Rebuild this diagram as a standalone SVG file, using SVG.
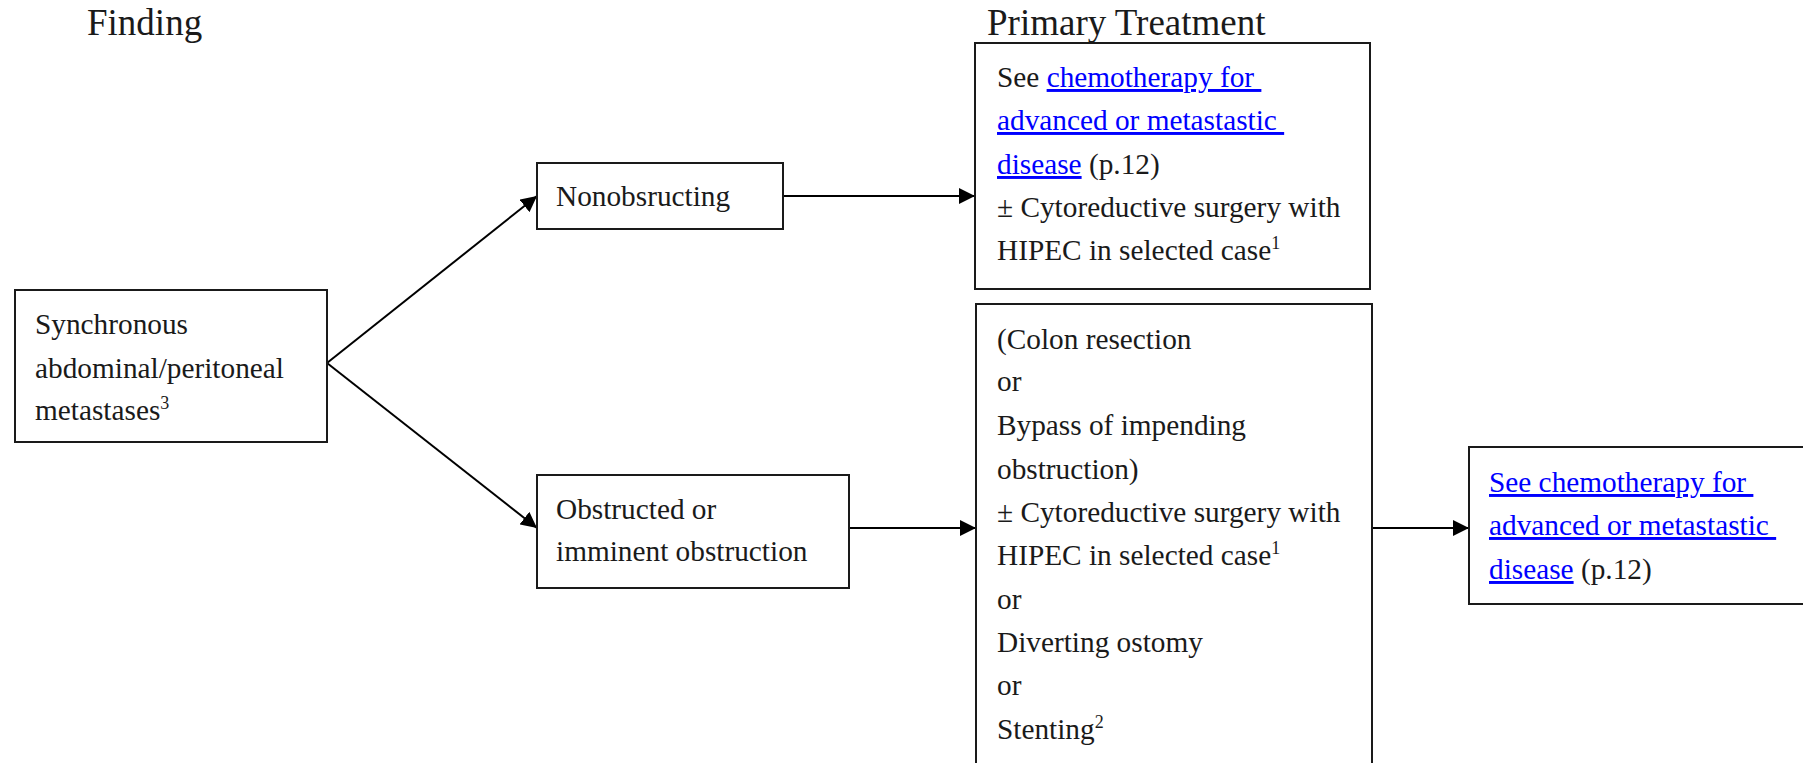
<svg xmlns="http://www.w3.org/2000/svg" width="1803" height="763" viewBox="0 0 1803 763">
<style>
  .box { fill: #ffffff; stroke: #1a1a1a; stroke-width: 2; }
  .t { font-family: "Liberation Serif", "Times New Roman", serif; font-size: 29.3px; fill: #1a1a1a; }
  .h { font-family: "Liberation Serif", "Times New Roman", serif; font-size: 37px; fill: #1a1a1a; }
  .lnk { fill: #0000ff; text-decoration: underline; }
  .sup { font-size: 18px; }
  .pre { white-space: pre; }
  .conn { fill: none; stroke: #000000; stroke-width: 2; }
</style>
<defs>
  <marker id="arrow" markerUnits="userSpaceOnUse" markerWidth="17" markerHeight="16" refX="16" refY="8" orient="auto">
    <path d="M0,0 L16,8 L0,16 z" fill="#000000"/>
  </marker>
</defs>
<rect x="0" y="0" width="1803" height="763" fill="#ffffff"/>

<g id="headers">
  <text class="h" x="87" y="35">Finding</text>
  <text class="h" x="987" y="35">Primary Treatment</text>
</g>

<g id="connectors">
  <line class="conn" x1="327" y1="363" x2="537" y2="196" marker-end="url(#arrow)"/>
  <line class="conn" x1="327" y1="363" x2="537" y2="528" marker-end="url(#arrow)"/>
  <line class="conn" x1="783" y1="196" x2="975" y2="196" marker-end="url(#arrow)"/>
  <line class="conn" x1="849" y1="528" x2="976" y2="528" marker-end="url(#arrow)"/>
  <line class="conn" x1="1372" y1="528" x2="1469" y2="528" marker-end="url(#arrow)"/>
</g>

<g id="node-synchronous">
  <rect class="box" x="15" y="290" width="312" height="152"/>
  <text class="t" x="35" y="334">Synchronous</text>
  <text class="t" x="35" y="378">abdominal/peritoneal</text>
  <text class="t" x="35" y="420">metastases<tspan class="sup" dy="-11">3</tspan></text>
</g>

<g id="node-nonobstructing">
  <rect class="box" x="537" y="163" width="246" height="66"/>
  <text class="t" x="556" y="206">Nonobsructing</text>
</g>

<g id="node-obstructed">
  <rect class="box" x="537" y="475" width="312" height="113"/>
  <text class="t" x="556" y="519">Obstructed or</text>
  <text class="t" x="556" y="561">imminent obstruction</text>
</g>

<g id="node-treatment-1">
  <rect class="box" x="975" y="43" width="395" height="246"/>
  <text class="t pre" x="997" y="87">See <tspan class="lnk">chemotherapy for </tspan></text>
  <text class="t pre" x="997" y="130"><tspan class="lnk">advanced or metastastic </tspan></text>
  <text class="t" x="997" y="174"><tspan class="lnk">disease</tspan> (p.12)</text>
  <text class="t" x="997" y="217">± Cytoreductive surgery with</text>
  <text class="t" x="997" y="260">HIPEC in selected case<tspan class="sup" dy="-11">1</tspan></text>
</g>

<g id="node-treatment-2">
  <rect class="box" x="976" y="304" width="396" height="480"/>
  <text class="t" x="997" y="349">(Colon resection</text>
  <text class="t" x="997" y="391">or</text>
  <text class="t" x="997" y="435">Bypass of impending</text>
  <text class="t" x="997" y="479">obstruction)</text>
  <text class="t" x="997" y="522">± Cytoreductive surgery with</text>
  <text class="t" x="997" y="565">HIPEC in selected case<tspan class="sup" dy="-11">1</tspan></text>
  <text class="t" x="997" y="609">or</text>
  <text class="t" x="997" y="652">Diverting ostomy</text>
  <text class="t" x="997" y="695">or</text>
  <text class="t" x="997" y="739">Stenting<tspan class="sup" dy="-11">2</tspan></text>
</g>

<g id="node-chemo">
  <rect class="box" x="1469" y="447" width="360" height="157"/>
  <text class="t pre" x="1489" y="492"><tspan class="lnk">See chemotherapy for </tspan></text>
  <text class="t pre" x="1489" y="535"><tspan class="lnk">advanced or metastastic </tspan></text>
  <text class="t" x="1489" y="579"><tspan class="lnk">disease</tspan> (p.12)</text>
</g>
</svg>
